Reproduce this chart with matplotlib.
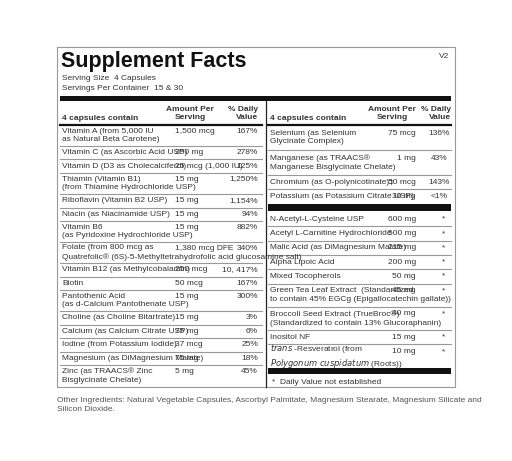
import matplotlib
matplotlib.use('Agg')
import matplotlib.pyplot as plt

plt.rcParams['font.family'] = ['Liberation Sans Narrow', 'Liberation Sans', 'DejaVu Sans']
plt.rcParams['mathtext.fontset'] = 'custom'
plt.rcParams['mathtext.rm'] = 'Liberation Sans Narrow'
plt.rcParams['mathtext.it'] = 'Liberation Sans Narrow:italic'

# ---- label data ----
title = 'Supplement Facts'
serving_size = 'Serving Size  4 Capsules'
servings_per = 'Servings Per Container  15 & 30'
header_name = '4 capsules contain'
header_amount = 'Amount Per\nServing'
header_dv = '% Daily\nValue'

left_names = [
	'Vitamin A (from 5,000 IU\nas Natural Beta Carotene)',
	'Vitamin C (as Ascorbic Acid USP)',
	'Vitamin D (D3 as Cholecalciferol)',
	'Thiamin (Vitamin B1)\n(from Thiamine Hydrochloride USP)',
	'Riboflavin (Vitamin B2 USP)',
	'Niacin (as Niacinamide USP)',
	'Vitamin B6\n(as Pyridoxine Hydrochloride USP)',
	'Folate (from 800 mcg as\nQuatrefolic® (6S)-5-Methyltetrahydrofolic acid glucosamine salt)',
	'Vitamin B12 (as Methylcobalamin)',
	'Biotin',
	'Pantothenic Acid\n(as d-Calcium Pantothenate USP)',
	'Choline (as Choline Bitartrate)',
	'Calcium (as Calcium Citrate USP)',
	'Iodine (from Potassium Iodide)',
	'Magnesium (as DiMagnesium Malate)',
	'Zinc (as TRAACS® Zinc\nBisglycinate Chelate)',
]
left_amounts = ['1,500 mcg', '250 mg', '25 mcg (1,000 IU)', '15 mg', '15 mg', '15 mg', '15 mg',
	'1,380 mcg DFE', '250 mcg', '50 mcg', '15 mg', '15 mg', '75 mg', '37 mcg', '75 mg', '5 mg']
left_dv = ['167%', '278%', '125%', '1,250%', '1,154%', '94%', '882%', '340%', '10, 417%',
	'167%', '300%', '3%', '6%', '25%', '18%', '45%']

right_top_names = [
	'Selenium (as Selenium\nGlycinate Complex)',
	'Manganese (as TRAACS®\nManganese Bisglycinate Chelate)',
	'Chromium (as O-polynicotinate)‡',
	'Potassium (as Potassium Citrate USP)',
]
right_top_amounts = ['75 mcg', '1 mg', '50 mcg', '30 mg']
right_top_dv = ['136%', '43%', '143%', '<1%']

right_bot_names = [
	'N-Acetyl-L-Cysteine USP',
	'Acetyl L-Carnitine Hydrochloride',
	'Malic Acid (as DiMagnesium Malate)',
	'Alpha Lipoic Acid',
	'Mixed Tocopherols',
	'Green Tea Leaf Extract  (Standardized\nto contain 45% EGCg (Epigallocatechin gallate))',
	'Broccoli Seed Extract (TrueBroc®)\n(Standardized to contain 13% Glucoraphanin)',
	'Inositol NF',
	'$\\it{trans}$ -Resveratrol (from\n$\\it{Polygonum\\ cuspidatum}$ (Roots))',
]
right_bot_amounts = ['600 mg', '500 mg', '215 mg', '200 mg', '50 mg', '45 mg', '40 mg', '15 mg', '10 mg']
right_bot_dv = ['*'] * 9

footnote = '*  Daily Value not established'
other = ('Other Ingredients: Natural Vegetable Capsules, Ascorbyl Palmitate, Magnesium Stearate, Magnesium Silicate and\n'
	'Silicon Dioxide.')

TXT = '#333333'
FS = 6.0
GRAY = '#999999'

fig = plt.figure(figsize=(5.12, 4.61), dpi=100)
ax = fig.add_axes([0, 0, 1, 1])
ax.set_xlim(0, 512)
ax.set_ylim(461, 0)
ax.axis('off')

# outer box
ax.plot([57, 455, 455, 57, 57], [47, 47, 387, 387, 47], color='#999999', lw=0.8)
ax.text(449, 56, 'V2', fontsize=FS, color=TXT, ha='right', va='center')
ax.text(61, 62, title, fontsize=15.5, fontweight='bold', color='#111111', va='center',
	family=['Liberation Sans', 'DejaVu Sans'])
ax.text(62, 79, serving_size, fontsize=FS, color=TXT, va='center')
ax.text(62, 88, servings_per, fontsize=FS, color=TXT, va='center')
ax.fill_between([60, 451], 96, 101, color='#111111', lw=0)
ax.plot([265.5, 265.5], [101, 387], color='#222222', lw=0.9)


def header(x0, x1, xa, xd, ha_a):
	ax.text(x0 + 2, 118, header_name, fontsize=FS, fontweight='bold', color=TXT, va='center')
	ax.text(xa, 113.5, header_amount, fontsize=FS, fontweight='bold', color=TXT,
		va='center', ha=ha_a, multialignment='center', linespacing=1.35)
	ax.text(xd, 113.5, header_dv, fontsize=FS, fontweight='bold', color=TXT,
		va='center', ha='right', multialignment='right', linespacing=1.35)
	ax.plot([x0, x1], [125, 125], color='#111111', lw=1.6)


def rows(names, amounts, dvs, y, x0, x1, xa, ha_a, xd, ha_d, h1, h2, last_line=True):
	for i, (n, a, d) in enumerate(zip(names, amounts, dvs)):
		two = '\n' in n
		h = h2 if two else h1
		yc = y + h / 2
		yfirst = yc - 4.5 if two else yc
		ax.text(x0 + 2, yc, n, fontsize=FS, color=TXT, va='center', linespacing=1.3)
		ax.text(xa, yfirst, a, fontsize=FS, color=TXT, va='center', ha=ha_a)
		ax.text(xd, yfirst, d, fontsize=FS, color=TXT, va='center', ha=ha_d)
		y += h
		if i < len(names) - 1 or last_line:
			ax.plot([x0, x1], [y, y], color=GRAY, lw=0.8)
	return y


# left table
header(60, 262, 190, 258, 'center')
rows(left_names, left_amounts, left_dv, 125, 60, 262, 175, 'left', 258, 'right', 13.5, 21, last_line=False)

# right table
header(268, 451, 416, 451, 'right')
y = rows(right_top_names, right_top_amounts, right_top_dv, 125, 268, 451, 416, 'right', 439, 'center', 14, 25, last_line=False)
ax.fill_between([268, 451], y + 1, y + 8, color='#111111', lw=0)
y = rows(right_bot_names, right_bot_amounts, right_bot_dv, y + 9, 268, 451, 416, 'right', 444, 'center', 14.3, 23.3, last_line=False)
ax.fill_between([268, 451], y, y + 6, color='#111111', lw=0)
ax.text(272, 382, footnote, fontsize=FS, color=TXT, va='center')

ax.text(57, 405, other, fontsize=6.0, color='#555555', va='center', linespacing=1.45,
	family=['Liberation Sans', 'DejaVu Sans'])

fig.savefig('out.png', dpi=100)
